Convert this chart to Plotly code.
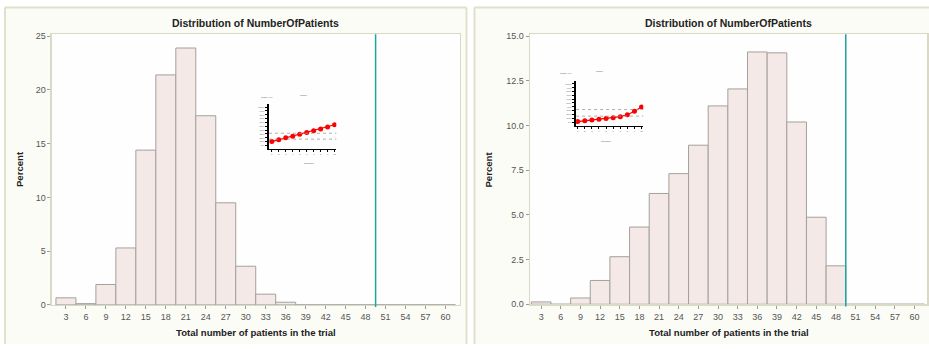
import plotly.graph_objects as go

# ---------------- data ----------------
bins = [3, 6, 9, 12, 15, 18, 21, 24, 27, 30, 33, 36, 39, 42, 45, 48, 51, 54, 57, 60]
left_pct = [0.66, 0.12, 1.9, 5.3, 14.4, 21.4, 23.9, 17.6, 9.5, 3.6, 1.0, 0.25,
            0, 0, 0, 0, 0, 0, 0, 0]
right_pct = [0.13, 0, 0.35, 1.33, 2.66, 4.32, 6.2, 7.31, 8.9, 11.1, 12.05, 14.12,
             14.07, 10.2, 4.87, 2.15, 0, 0, 0, 0]
cutoff = 49.5

inset_x = [1, 2, 3, 4, 5, 6, 7, 8, 9, 10]
left_inset = [10, 15, 20, 24, 29, 34, 38, 43, 48, 54]
right_inset = [1, 3, 5, 7, 9, 11, 14, 19, 28, 39.5]
left_inset_refs = [31.8, 16.4]
right_inset_refs = [32.6, 15.4]

title_text = "Distribution of NumberOfPatients"
xtitle_text = "Total number of patients in the trial"
ytitle_text = "Percent"

# ---------------- geometry helpers ----------------
W, H = 929, 349
def px(x):
    return x / W
def py(y):
    return 1 - y / H

FONT = "Liberation Sans, Arial, sans-serif"
BAR_FILL = "#f4e9e6"
BAR_LINE = "#a3a09e"
FRAME = "#d9d9c6"
PANEL = "#fcfcf6"
PANEL_BORDER = "#e0e0cc"
TEAL = "#1fa3a3"
TICKC = "#555555"

fig = go.Figure()

fig.add_trace(go.Bar(x=bins, y=left_pct, width=3, marker=dict(color=BAR_FILL, line=dict(color=BAR_LINE, width=1)),
                     xaxis="x", yaxis="y", showlegend=False))
fig.add_trace(go.Bar(x=bins, y=right_pct, width=3, marker=dict(color=BAR_FILL, line=dict(color=BAR_LINE, width=1)),
                     xaxis="x2", yaxis="y2", showlegend=False))

# insets
fig.add_trace(go.Scatter(x=inset_x, y=left_inset, mode="lines+markers",
                         line=dict(color="#ff0000", width=1.2),
                         marker=dict(color="#ff0000", size=5, symbol="circle"),
                         xaxis="x3", yaxis="y3", showlegend=False))
fig.add_trace(go.Scatter(x=inset_x, y=right_inset, mode="lines+markers",
                         line=dict(color="#ff0000", width=1.2),
                         marker=dict(color="#ff0000", size=5, symbol="circle"),
                         xaxis="x4", yaxis="y4", showlegend=False))

shapes = []
# panels: fill, then left/top/right border lines (no bottom border visible)
for (l, r) in [(5, 467), (475, 960)]:
    shapes.append(dict(type="rect", xref="paper", yref="paper", x0=px(l), x1=px(r), y0=0, y1=py(4.5),
                       fillcolor=PANEL, line=dict(width=0), layer="below"))
    shapes.append(dict(type="line", xref="paper", yref="paper", x0=px(l), x1=px(l), y0=0, y1=py(4.5),
                       line=dict(color=PANEL_BORDER, width=2), layer="below"))
    shapes.append(dict(type="line", xref="paper", yref="paper", x0=px(l), x1=px(r), y0=py(4.5), y1=py(4.5),
                       line=dict(color=PANEL_BORDER, width=2), layer="below"))
    shapes.append(dict(type="line", xref="paper", yref="paper", x0=px(r), x1=px(r), y0=0, y1=py(4.5),
                       line=dict(color=PANEL_BORDER, width=2), layer="below"))
# plot area backgrounds
shapes.append(dict(type="rect", xref="paper", yref="paper", x0=px(52), x1=px(460), y0=py(309), y1=py(32),
                   fillcolor="#fefefe", line=dict(width=0), layer="below"))
shapes.append(dict(type="rect", xref="paper", yref="paper", x0=px(530.7), x1=px(928), y0=py(308.3), y1=py(32),
                   fillcolor="#fefefe", line=dict(width=0), layer="below"))
# cutoff lines
shapes.append(dict(type="line", xref="x", yref="y domain", x0=cutoff, x1=cutoff, y0=-0.008, y1=1,
                   line=dict(color=TEAL, width=1.5)))
shapes.append(dict(type="line", xref="x2", yref="y2 domain", x0=cutoff, x1=cutoff, y0=-0.008, y1=1,
                   line=dict(color=TEAL, width=1.5)))
# inset reference lines
for v in left_inset_refs:
    shapes.append(dict(type="line", xref="x3 domain", yref="y3", x0=0, x1=1, y0=v, y1=v,
                       line=dict(color="#999999", width=0.8, dash="dot")))
for v in right_inset_refs:
    shapes.append(dict(type="line", xref="x4 domain", yref="y4", x0=0, x1=1, y0=v, y1=v,
                       line=dict(color="#999999", width=0.8, dash="dot")))

tickfont = dict(family=FONT, size=9, color=TICKC)
main_x = dict(tickvals=bins, ticks="outside", ticklen=3, tickcolor="#9a9a9a", tickfont=tickfont,
              showline=True, linecolor=FRAME, linewidth=1.5, mirror=True, showgrid=False, zeroline=False,
              fixedrange=True)
main_y = dict(ticks="outside", ticklen=3, tickcolor="#9a9a9a", tickfont=tickfont,
              showline=True, linecolor=FRAME, linewidth=1.5, mirror=True, showgrid=False, zeroline=False,
              fixedrange=True)

inset_tick = dict(family=FONT, size=2.5, color="#666666")
inset_x_ax = dict(tickvals=inset_x, ticks="outside", ticklen=2, tickcolor="#000", tickwidth=1,
                  tickfont=inset_tick, showline=True, linecolor="#000000", linewidth=1.5,
                  showgrid=False, zeroline=False, range=[0.6, 10.25])
inset_y_ax = dict(tickvals=[0, 10, 20, 30, 40, 50, 60, 70, 80, 90, 100],
                  ticktext=["0%", "10%", "20%", "30%", "40%", "50%", "60%", "70%", "80%", "90%", "100%"],
                  ticks="outside", ticklen=2, tickcolor="#000", tickwidth=1,
                  tickfont=inset_tick, showline=True, linecolor="#000000", linewidth=2,
                  showgrid=False, zeroline=False, range=[-9, 109])

fig.update_layout(
    width=W, height=H,
    margin=dict(l=0, r=0, t=0, b=0),
    paper_bgcolor="#ffffff",
    plot_bgcolor="rgba(0,0,0,0)",
    bargap=0,
    shapes=shapes,
    xaxis=dict(main_x, domain=[px(52), px(460)], range=[0.9, 62.1], anchor="y"),
    yaxis=dict(main_y, domain=[py(309), py(32)], range=[0, 25.18], tickvals=[0, 5, 10, 15, 20, 25], anchor="x"),
    xaxis2=dict(main_x, domain=[px(530.7), px(928)], range=[1.32, 61.9], anchor="y2"),
    yaxis2=dict(main_y, domain=[py(308.3), py(32)], range=[0, 15.11],
                tickvals=[0, 2.5, 5, 7.5, 10, 12.5, 15], tickformat=".1f", anchor="x2"),
    xaxis3=dict(inset_x_ax, domain=[px(269.3), px(336.7)], anchor="y3"),
    yaxis3=dict(inset_y_ax, domain=[py(149.3), py(103)], anchor="x3"),
    xaxis4=dict(inset_x_ax, domain=[px(576.7), px(644)], range=[0.77, 10.25], anchor="y4"),
    yaxis4=dict(inset_y_ax, domain=[py(125.7), py(80)], range=[-10, 107], anchor="x4"),
)

ann = []
for cx, cy_title, cx_ylab in [(256, 20, 19), (729.5, 20, 489)]:
    ann.append(dict(text="<b>" + title_text + "</b>", x=px(cx), y=py(cy_title), xref="paper", yref="paper",
                    showarrow=False, font=dict(family=FONT, size=10.5, color="#222222"),
                    xanchor="center", yanchor="middle"))
    ann.append(dict(text="<b>" + xtitle_text + "</b>", x=px(cx), y=py(337.5), xref="paper", yref="paper",
                    showarrow=False, font=dict(family=FONT, size=9.6, color="#222222"),
                    xanchor="center", yanchor="middle"))
    ann.append(dict(text="<b>" + ytitle_text + "</b>", x=px(cx_ylab), y=py(170), xref="paper", yref="paper",
                    showarrow=False, textangle=-90, font=dict(family=FONT, size=9.6, color="#222222"),
                    xanchor="center", yanchor="middle"))

# inset tiny labels
for (tx, ty, ylx, yly, xtx, xty) in [(298, 91, 259, 93, 302, 164), (600, 67, 567, 69, 607, 142)]:
    ann.append(dict(text="Power", x=px(tx), y=py(ty), xref="paper", yref="paper", showarrow=False,
                    font=dict(family=FONT, size=2.5, color="#555555")))
    ann.append(dict(text="Power (%)", x=px(ylx), y=py(yly), xref="paper", yref="paper", showarrow=False,
                    font=dict(family=FONT, size=2.5, color="#555555")))
    ann.append(dict(text="Scenario", x=px(xtx), y=py(xty), xref="paper", yref="paper", showarrow=False,
                    font=dict(family=FONT, size=2.5, color="#555555")))

fig.update_layout(annotations=ann)

fig.write_html("out.html", config={"displayModeBar": False, "staticPlot": True},
               post_script="document.body.style.margin='0';")
